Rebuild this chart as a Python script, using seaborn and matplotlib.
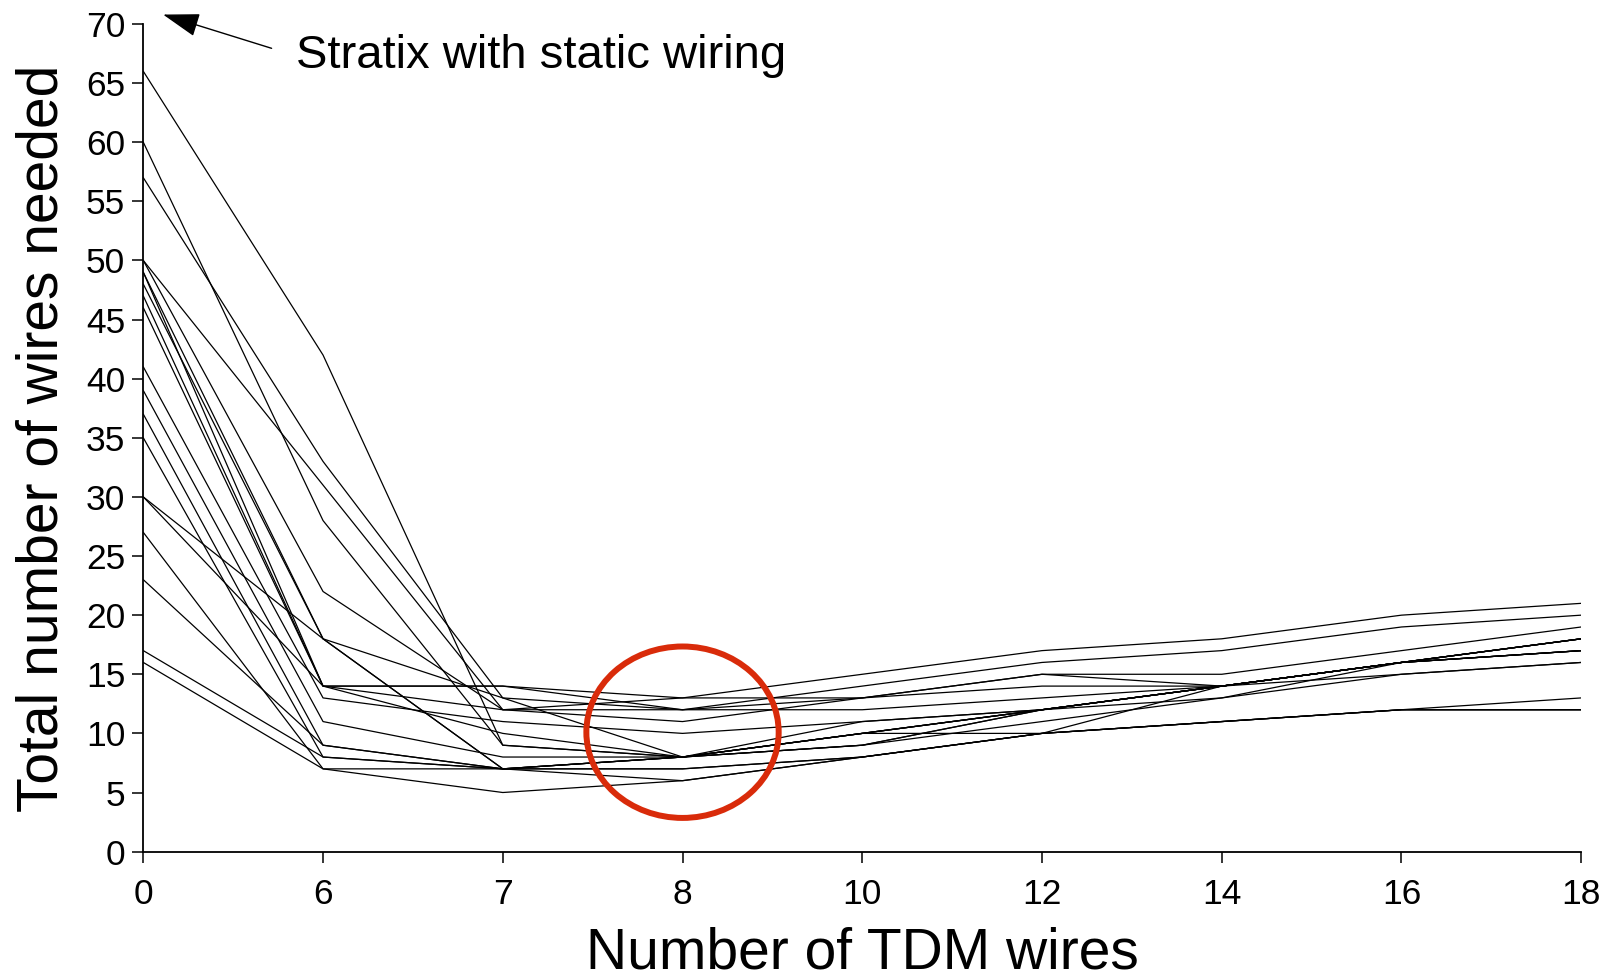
import pandas as pd
import numpy as np
import matplotlib.pyplot as plt
import seaborn as sns
from matplotlib.patches import Ellipse

# x categories (number of TDM wires), equally spaced on the axis
tdm_wires = ['0', '6', '7', '8', '10', '12', '14', '16', '18']

# total wires needed per design
design_a = [66, 42, 9, 8, 10, 12, 14, 16, 18]
design_b = [60, 28, 9, 8, 11, 12, 14, 16, 17]
design_c = [57, 33, 13, 12, 14, 16, 17, 19, 20]
design_d = [50, 31, 12, 13, 15, 17, 18, 20, 21]
design_e = [50, 22, 12, 11, 13, 15, 15, 17, 19]
design_f = [49, 18, 7, 8, 10, 12, 14, 16, 18]
design_g = [48, 18, 7, 8, 10, 12, 14, 16, 17]
design_h = [49, 14, 14, 13, 13, 14, 14, 16, 17]
design_i = [47, 14, 14, 12, 13, 15, 14, 16, 18]
design_j = [46, 14, 12, 12, 12, 13, 14, 15, 16]
design_k = [41, 13, 11, 10, 11, 12, 13, 15, 16]
design_l = [39, 11, 8, 8, 9, 12, 14, 16, 17]
design_m = [37, 9, 7, 8, 9, 11, 13, 16, 18]
design_n = [35, 8, 7, 7, 8, 10, 11, 12, 13]
design_o = [30, 18, 13, 8, 10, 12, 14, 16, 18]
design_p = [30, 14, 10, 8, 9, 12, 14, 16, 17]
design_q = [27, 7, 7, 8, 10, 10, 14, 16, 18]
design_r = [23, 9, 7, 6, 8, 10, 11, 12, 12]
design_s = [17, 8, 7, 7, 8, 10, 11, 12, 12]
design_t = [16, 7, 5, 6, 8, 10, 11, 12, 12]

designs = {
    'a': design_a, 'b': design_b, 'c': design_c, 'd': design_d, 'e': design_e,
    'f': design_f, 'g': design_g, 'h': design_h, 'i': design_i, 'j': design_j,
    'k': design_k, 'l': design_l, 'm': design_m, 'n': design_n, 'o': design_o,
    'p': design_p, 'q': design_q, 'r': design_r, 's': design_s, 't': design_t,
}

# long-form table for seaborn
rows = []
for name, vals in designs.items():
    for x, v in zip(tdm_wires, vals):
        rows.append({'design': name, 'tdm': x, 'wires': v})
df = pd.DataFrame(rows)

sns.set_style('ticks')
plt.rcParams['font.family'] = ['Liberation Sans', 'DejaVu Sans']
plt.rcParams['text.color'] = 'black'
plt.rcParams['axes.labelcolor'] = 'black'

fig = plt.figure(figsize=(16.12, 9.8), dpi=100)
ax = fig.add_axes([0.0889, 0.131, 0.892, 0.8445])

sns.lineplot(data=df, x='tdm', y='wires', units='design', estimator=None,
             color='black', linewidth=0.9, sort=False, ax=ax)

ax.set_xlim(0, len(tdm_wires) - 1)
ax.set_ylim(0, 70)
ax.set_yticks(np.arange(0, 71, 5))

sns.despine(ax=ax)
for side in ['left', 'bottom']:
    ax.spines[side].set_linewidth(1.3)
    ax.spines[side].set_color('black')
ax.tick_params(axis='both', direction='out', length=8, width=1.1,
               labelsize=25.5, colors='black')
ax.tick_params(axis='x', pad=11)
ax.tick_params(axis='y', pad=5)

ax.set_xlabel('Number of TDM wires', fontsize=41, labelpad=11, color='black')
ax.set_ylabel('Total number of wires needed', fontsize=41, labelpad=12, color='black')

# annotation for the static-wiring baseline
ax.annotate('Stratix with static wiring', xy=(0.11, 70.8), xytext=(0.85, 67.3),
            xycoords='data', textcoords='data', fontsize=34, ha='left', va='center',
            color='black', annotation_clip=False,
            arrowprops=dict(arrowstyle='-|>,head_length=1.15,head_width=0.37',
                            mutation_scale=20, color='black', lw=1.0,
                            relpos=(0, 0.5), shrinkA=16, shrinkB=0))

# red circle around the sweet spot
circle = Ellipse((3.0, 10.1), width=1.07, height=14.5, fill=False,
                 edgecolor='#d92b0a', linewidth=4.3, zorder=5)
ax.add_patch(circle)

fig.savefig('out.png', dpi=100)
